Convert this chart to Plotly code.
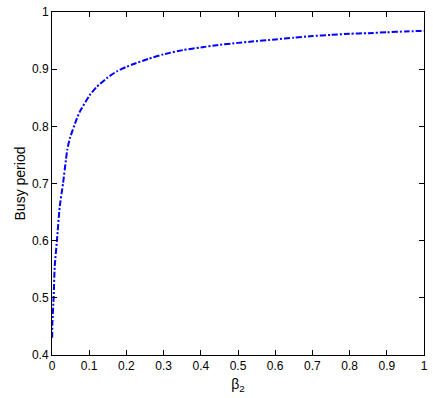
import plotly.graph_objects as go

beta2 = [0.0005, 0.001, 0.0045, 0.0072, 0.0134, 0.0207, 0.0296, 0.0385, 0.041, 0.048,
         0.066, 0.075, 0.102, 0.12, 0.147, 0.174, 0.2, 0.219, 0.259, 0.3, 0.353,
         0.4, 0.443, 0.5, 0.532, 0.6, 0.65, 0.7, 0.75, 0.8, 0.85, 0.9, 0.95, 1.0]
busy = [0.43, 0.455, 0.502, 0.554, 0.601, 0.659, 0.700, 0.747, 0.759, 0.779,
        0.812, 0.826, 0.855, 0.869, 0.884, 0.896, 0.904, 0.909, 0.918, 0.926, 0.9335,
        0.938, 0.942, 0.946, 0.948, 0.952, 0.955, 0.958, 0.960, 0.962, 0.963, 0.9645, 0.966, 0.967]

x_ticks = [0, 0.1, 0.2, 0.3, 0.4, 0.5, 0.6, 0.7, 0.8, 0.9, 1]
x_tick_labels = ["0", "0.1", "0.2", "0.3", "0.4", "0.5", "0.6", "0.7", "0.8", "0.9", "1"]
y_ticks = [0.4, 0.5, 0.6, 0.7, 0.8, 0.9, 1]
y_tick_labels = ["0.4", "0.5", "0.6", "0.7", "0.8", "0.9", "1"]

FONT = "Liberation Sans Narrow, Arial Narrow, Liberation Sans, Arial, sans-serif"

fig = go.Figure()
fig.add_trace(go.Scatter(
    x=beta2, y=busy, mode="lines",
    line=dict(color="#0000FF", width=2, dash="6px,2px,2px,2px",
              shape="spline", smoothing=0.5),
    showlegend=False, cliponaxis=False,
))

axis_common = dict(
    showline=True, linecolor="black", linewidth=1, mirror="ticks",
    ticks="inside", ticklen=5, tickcolor="black", tickwidth=1,
    showgrid=False, zeroline=False, automargin=False,
    tickfont=dict(family=FONT, size=12, color="black"),
)

fig.update_layout(
    width=433, height=398,
    margin=dict(l=52, r=9, t=12, b=43),
    paper_bgcolor="white", plot_bgcolor="white",
    font=dict(family=FONT, size=12, color="black"),
    xaxis=dict(range=[0, 1], tickvals=x_ticks, ticktext=x_tick_labels,
               title=dict(text="β<sub>2</sub>", standoff=6), **axis_common),
    yaxis=dict(range=[0.4, 1], tickvals=y_ticks, ticktext=y_tick_labels,
               title=dict(text="Busy period", standoff=3), **axis_common),
)

fig.write_html("out.html",
               config={"displayModeBar": False},
               post_script="document.body.style.margin='0';document.body.style.padding='0';")
